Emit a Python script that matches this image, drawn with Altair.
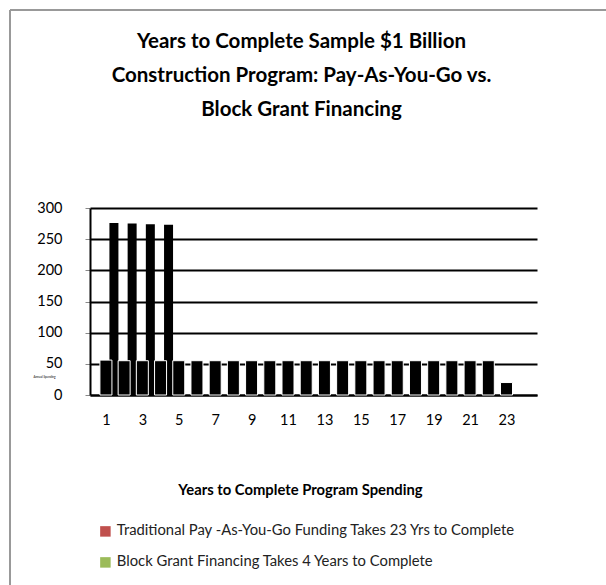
import altair as alt
import pandas as pd

years = [1, 2, 3, 4, 5, 6, 7, 8, 9, 10, 11, 12, 13, 14, 15, 16, 17, 18, 19, 20, 21, 22, 23]
payg = [56, 55, 55, 55, 55, 55, 55, 55, 55, 55, 55, 55, 55, 55, 55, 55, 55, 55, 55, 55, 55, 55, 20]
block_years = [1, 2, 3, 4]
block = [276, 275, 274, 273]
x_ticks = [1, 3, 5, 7, 9, 11, 13, 15, 17, 19, 21, 23]
y_ticks = [0, 50, 100, 150, 200, 250, 300]
series = ["Traditional Pay -As-You-Go Funding Takes 23 Yrs to Complete",
          "Block Grant Financing Takes 4 Years to Complete"]
colors = ["#C0504D", "#9BBB59"]
title_lines = ["Years to Complete Sample $1 Billion",
               "Construction Program: Pay-As-You-Go vs.",
               "Block Grant Financing"]

df_p = pd.DataFrame({"year": years, "value": payg, "series": series[0]})
df_b = pd.DataFrame({"year": block_years, "value": block, "series": series[1]})
df_all = pd.concat([df_p, df_b], ignore_index=True)

FONT = "Lato"

x = alt.X("year:Q",
          scale=alt.Scale(domain=[0.4, 24.4], nice=False, zero=False),
          axis=alt.Axis(values=x_ticks, title="Years to Complete Program Spending",
                        grid=False, ticks=False, domainColor="black", domainWidth=2,
                        labelPadding=18, labelFontSize=14.5, labelColor="black",
                        titleFontSize=14.8, titleFontWeight="bold", titleColor="black",
                        titleX=210, titleY=95, titleBaseline="middle"))
y = alt.Y("value:Q",
          scale=alt.Scale(domain=[0, 300], nice=False),
          axis=alt.Axis(values=y_ticks, title="Annual Spending", titleAngle=0,
                        titleFontSize=3, titleFontWeight="normal", titleColor="black",
                        titleX=-46, titleY=168, titleAlign="center", titleBaseline="middle",
                        grid=True, gridColor="black", gridWidth=2,
                        domainColor="black", domainWidth=2,
                        tickColor="#888888", tickSize=5,
                        labelPadding=23, labelFontSize=14.5, labelColor="black"))

back = alt.Chart(df_b).mark_bar(color="black", width=9, xOffset=8).encode(x=x, y=y)
front = alt.Chart(df_p).mark_bar(color="black", width=12, stroke="white",
                                 strokeWidth=1).encode(x=x, y=y)
legend_layer = alt.Chart(df_all).mark_square(opacity=0, size=1).encode(
    x=x, y=y,
    color=alt.Color("series:N", scale=alt.Scale(domain=series, range=colors),
                    legend=alt.Legend(orient="none", legendX=8, legendY=316, title=None,
                                      symbolType="square", symbolSize=110,
                                      symbolOpacity=1, symbolStrokeWidth=0,
                                      labelFontSize=14.8, labelColor="#222222",
                                      rowPadding=15, labelLimit=600)))

frame_df = pd.DataFrame({"k": [0]})
left_border = alt.Chart(frame_df).mark_rule(color="#999999", strokeWidth=2).encode(
    x=alt.value(-80), y=alt.value(-198), y2=alt.value(390))
top_border = alt.Chart(frame_df).mark_rule(color="#999999", strokeWidth=2).encode(
    x=alt.value(-80), x2=alt.value(530), y=alt.value(-198))

chart = alt.layer(back, front, legend_layer, left_border, top_border).properties(
    width=447, height=187,
    padding={"left": 90, "top": 208, "right": 69, "bottom": 190},
    autosize=alt.AutoSizeParams(type="none"),
    background="white",
    title=alt.TitleParams(title_lines, font=FONT, fontSize=20.5, fontWeight="bold",
                          color="black", lineHeight=34, anchor="middle",
                          frame="group", dx=-12, offset=10, dy=121),
).configure_view(stroke=None).configure_axis(labelFont=FONT, titleFont=FONT).configure_legend(
    labelFont=FONT)

chart.save("out.html", embed_options={"renderer": "svg", "actions": False})
